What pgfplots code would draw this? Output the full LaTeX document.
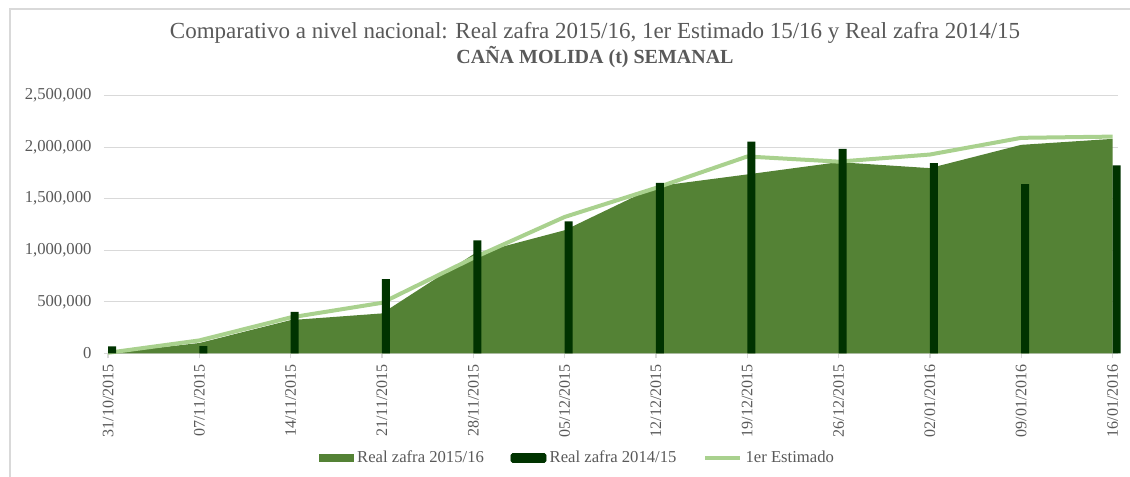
\documentclass[border=0pt]{standalone}
\usepackage{pgfplots}
\pgfplotsset{compat=1.18}
\usepackage{fontspec}
\setmainfont{Liberation Serif}
\definecolor{areaG}{HTML}{548235}
\definecolor{barG}{HTML}{003300}
\definecolor{lineG}{HTML}{A9D18E}
\definecolor{txt}{HTML}{595959}
\definecolor{grd}{HTML}{D9D9D9}
\begin{document}
\begin{tikzpicture}
\path[use as bounding box] (0pt,0pt) rectangle (678pt,286.2pt);
\draw[grd, line width=0.8pt] (6pt,0pt) -- (6pt,280.8pt) -- (678pt,280.8pt);
\node[txt, font=\fontsize{13.8}{15}\selectfont] at (357pt,266.4pt) {Comparativo a nivel nacional: Real zafra 2015/16, 1er Estimado 15/16 y Real zafra 2014/15};
\node[txt, font=\fontsize{12}{14}\selectfont\bfseries] at (357pt,252pt) {CAÑA MOLIDA (t) SEMANAL};
\begin{axis}[
  at={(62.4pt,74.22pt)}, anchor=south west,
  scale only axis, width=608.4pt, height=154.56pt,
  xmin=-0.044, xmax=11.06, ymin=0, ymax=2500000,
  ytick={0,500000,1000000,1500000,2000000,2500000},
  scaled y ticks=false,
  yticklabel style={/pgf/number format/fixed, /pgf/number format/1000 sep={,}, /pgf/number format/assume math mode=true, font=\fontsize{10}{11}\selectfont, text=txt, xshift=-1pt},
  xtick={0,...,11},
  xticklabels={31/10/2015,07/11/2015,14/11/2015,21/11/2015,28/11/2015,05/12/2015,12/12/2015,19/12/2015,26/12/2015,02/01/2016,09/01/2016,16/01/2016},
  xticklabel style={rotate=90, anchor=east, font=\fontsize{9.6}{11}\selectfont, text=txt},
  axis x line*=bottom, axis y line*=left,
  x axis line style={grd, line width=0.8pt},
  y axis line style={draw=none},
  ymajorgrids, grid style={grd, line width=0.8pt},
  tick align=outside, major tick length=3pt,
  xtick style={grd, line width=0.8pt}, ytick style={draw=none},
  legend columns=3,
  legend style={at={(0.4675,-0.4064)}, anchor=center, draw=none, fill=none,
    font=\fontsize{10}{11}\selectfont, text=txt,
    /tikz/every even column/.append style={column sep=14pt}},
  clip=false,
]
\addplot[fill=areaG, draw=none, area legend,
  legend image code/.code={\fill[areaG] (0cm,-0.075cm) rectangle (0.74cm,0.075cm);}]
  coordinates {(0,0) (1,100000) (2,322000) (3,387000) (4,960000) (5,1194000) (6,1620000) (7,1736000) (8,1855000) (9,1797000) (10,2023000) (11,2081000)} \closedcycle;
\addlegendentry{Real zafra 2015/16}
\addlegendimage{legend image code/.code={\fill[barG, rounded corners=1pt] (0cm,-0.095cm) rectangle (0.74cm,0.095cm);}}
\addlegendentry{Real zafra 2014/15}
\addplot[lineG, line width=2.4pt, line join=round, no markers,
  legend image code/.code={\draw[lineG, line width=2.4pt] (0cm,0cm) -- (0.74cm,0cm);}]
  coordinates {(0,5000) (1,125000) (2,348000) (3,490000) (4,925000) (5,1323000) (6,1605000) (7,1910000) (8,1860000) (9,1929000) (10,2091000) (11,2103000)};
\addlegendentry{1er Estimado}
\addplot[ybar, bar width=4.8pt, bar shift=2.4pt, fill=barG, draw=none, forget plot]
  coordinates {(0,68000) (1,70000) (2,403000) (3,719000) (4,1097000) (5,1281000) (6,1655000) (7,2055000) (8,1984000) (9,1845000) (10,1642000) (11,1823000)};
\end{axis}
\end{tikzpicture}
\end{document}
